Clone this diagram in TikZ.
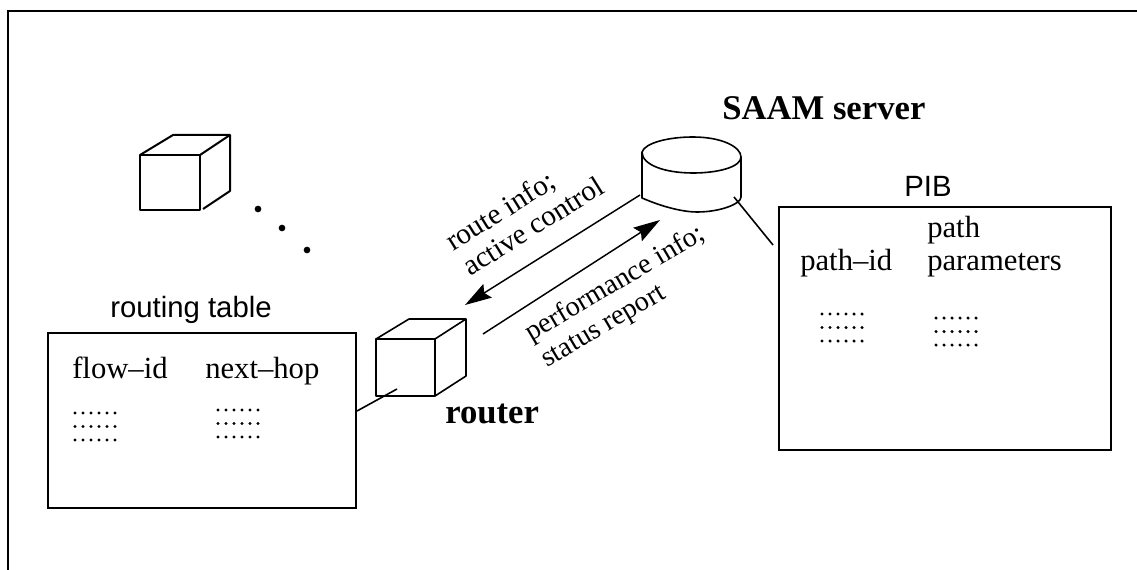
\documentclass[tikz,border=0pt]{standalone}
\usepackage{fontspec}
\setmainfont{Liberation Serif}
\setsansfont{Liberation Sans}
\usetikzlibrary{arrows.meta}
\tikzset{
  x=0.75pt,y=-0.75pt,
  thinline/.style={draw=black,line width=1.2pt,line join=round},
  frameline/.style={draw=black,line width=1.4pt},
  tbox/.style={draw=black,line width=1.3pt,inner sep=0pt,anchor=north west},
  label/.style={font=\fontsize{23}{25}\selectfont,inner sep=0pt,anchor=base west,text=black},
  sanslabel/.style={font=\sffamily\fontsize{22}{24}\selectfont,inner sep=0pt,anchor=base west},
  boldlabel/.style={font=\bfseries\fontsize{26}{28}\selectfont,inner sep=0pt,anchor=base west},
  routetext/.style={inner sep=0pt,anchor=base west,rotate=32,font=\fontsize{22}{24}\selectfont},
  perftext/.style={inner sep=0pt,anchor=base west,rotate=30.5,font=\fontsize{21.2}{23}\selectfont},
  bigdot/.style={circle,fill=black,inner sep=0pt,minimum size=5pt},
  arrowline/.style={draw=black,line width=1.1pt,-{Stealth[length=20pt,width=12pt,inset=3pt]}}
}
\newcommand{\dotgrid}[2]{%
  \foreach \r in {0,1,2}{\foreach \c in {0,1,2,3,4,5}{%
    \fill (#1+\c*8,#2+\r*13.5) circle (1.3pt);}}}
\begin{document}
\begin{tikzpicture}
\useasboundingbox (0,0) rectangle (1137,570);
% outer frame
\draw[frameline] (8,570) -- (8,11) -- (1137,11);
% tables
\node[tbox,minimum width=308pt*0.75,minimum height=175pt*0.75] (rt) at (47,332) {};
\node[tbox,minimum width=332pt*0.75,minimum height=243pt*0.75] (pib) at (778,206) {};
% top left cube
\draw[thinline,line width=1.5pt] (140,155) rectangle (200,210);
\draw[thinline,line width=1.5pt] (140,155) -- (173,135) -- (230,135) -- (230,191) -- (203,209) (200,155) -- (230,135);
% router cube
\draw[thinline] (376,339) rectangle (435,396);
\draw[thinline] (376,339) -- (409,319) -- (466,319) -- (466,376) -- (435,396) (435,339) -- (466,319);
% leader lines
\coordinate (r1) at (397,389);
\coordinate (r2) at (357,411);
\draw[thinline] (r1) -- (r2);
\coordinate (s1) at (734,197);
\coordinate (s2) at (773,245);
\draw[thinline] (s1) -- (s2);
% cylinder
\draw[thinline,fill=white] (642,152) .. controls (645,143) and (668,137) .. (693,137) .. controls (722,137) and (741,147) .. (741,157) .. controls (741,167) and (718,173) .. (693,173) .. controls (665,173) and (642,165) .. (642,152) -- cycle;
\draw[thinline] (642,152) -- (642,198) .. controls (665,208) and (685,212) .. (697,212) .. controls (720,212) and (741,204) .. (741,197) -- (741,157);
% arrows
\coordinate (a1) at (640,195);
\coordinate (a2) at (465,305);
\draw[arrowline] (a1) -- (a2);
\coordinate (b1) at (483,334);
\coordinate (b2) at (660,220);
\draw[arrowline] (b1) -- (b2);
% dots
\node[bigdot] (d1) at (258,209) {};
\node[bigdot] (d2) at (282,228) {};
\node[bigdot] (d3) at (307,250) {};
% labels
\node[boldlabel] (saam) at (722,120) {SAAM server};
\node[boldlabel] (router) at (445,423) {router};
\node[sanslabel] (pibt) at (904,197) {PIB};
\node[sanslabel] (rtt) at (110,317) {routing table};
\node[label] (f) at (72,378) {flow–id};
\node[label] (n) at (205,378) {next–hop};
\node[label] (p1) at (800,270) {path–id};
\node[label] (p2) at (927,238) {path};
\node[label] (p3) at (927,270) {parameters};
\node[routetext] (r1t) at (453,252) {route info;};
\node[routetext] (r2t) at (470,277) {active control};
\node[perftext] (s1t) at (531,342) {performance info;};
\node[perftext] (s2t) at (547,368) {status report};
\dotgrid{75}{413}
\dotgrid{218}{410}
\dotgrid{822}{314}
\dotgrid{936}{318}
\end{tikzpicture}
\end{document}
